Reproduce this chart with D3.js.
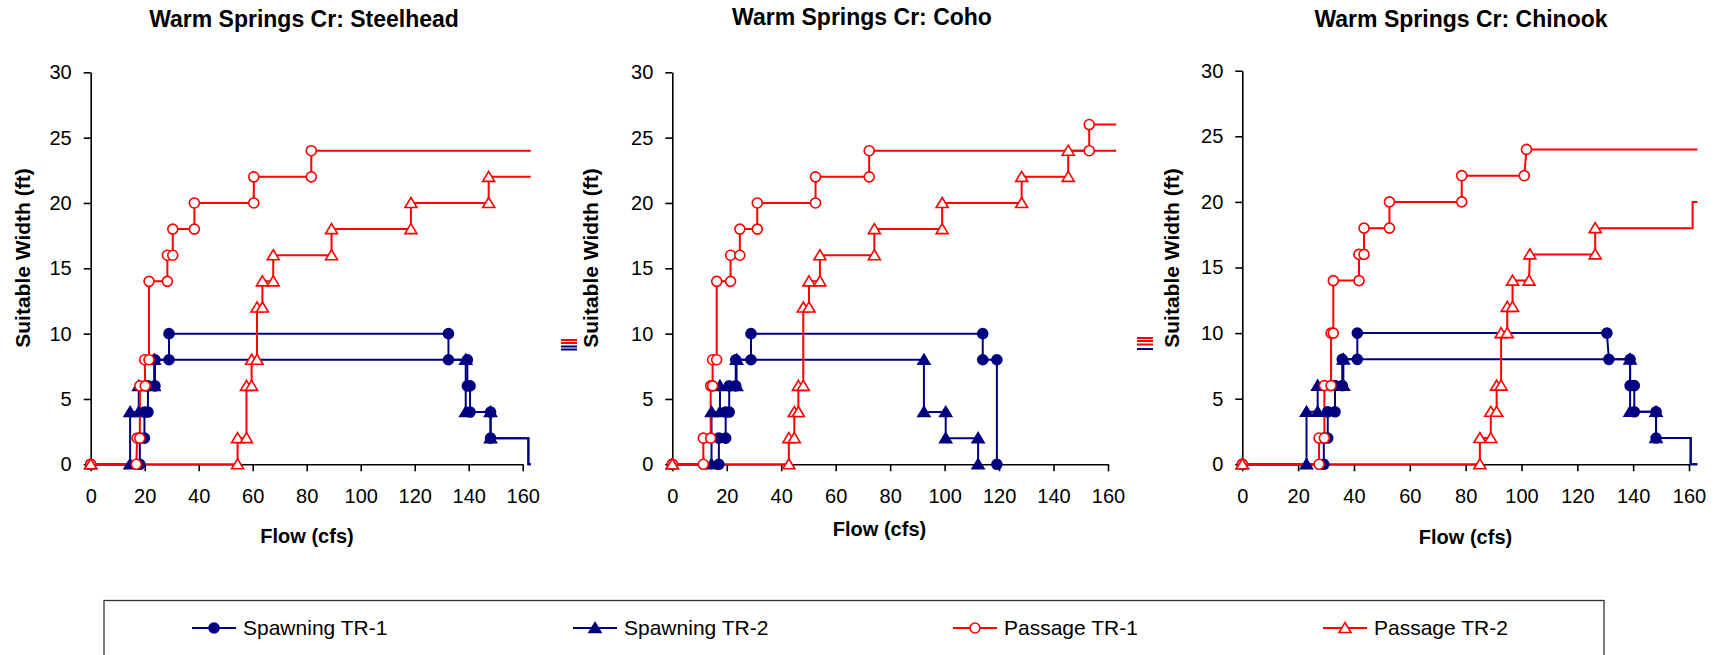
<!DOCTYPE html>
<html>
<head>
<meta charset="utf-8">
<script src="https://cdn.jsdelivr.net/npm/d3@7"></script>
<style>
  body { margin: 0; background: #fff; }
  svg { display: block; font-family: Arial, "Liberation Sans", sans-serif; }
</style>
</head>
<body>
<script>
// tick labels, titles, legend
let flowTicks = [0,20,40,60,80,100,120,140,160];
let widthTicks = [0,5,10,15,20,25,30];
let seriesNames = ["Spawning TR-1","Spawning TR-2","Passage TR-1","Passage TR-2"];
let panelTitles = ["Warm Springs Cr: Steelhead","Warm Springs Cr: Coho","Warm Springs Cr: Chinook"];

// [flow, suitable width] — marked points, then unmarked tail to the plot edge
let steelheadSpawn1 = [[0,0],[18.2,0],[18.2,2],[19.9,2],[19.9,4],[21.2,4],[21.2,6],[23.8,6],[23.8,8],[29,8],[29,10],[132.5,10],[132.5,8],[139.5,8],[139.5,6],[140.5,6],[140.5,4],[148.1,4],[148.1,2]];
let steelheadSpawn2 = [[0,0],[14.6,0],[14.6,4],[17.8,4],[17.8,6],[23.5,6],[23.5,8],[138.9,8],[138.9,4],[148.1,4],[148.1,2]];
let steelheadSpawnTail = [[162.1,2],[162.1,0],[163,0]];
let steelheadPass1 = [[0,0],[16.9,0],[17.2,2],[18.2,2],[18.2,6],[20.2,6],[20,8],[21.6,8],[21.6,14],[28.4,14],[28.4,16],[30.4,16],[30.4,18],[38.4,18],[38.4,20],[60.4,20],[60.4,22],[81.7,22],[81.7,24]];
let steelheadPass1Tail = [[163,24]];
let steelheadPass2 = [[0,0],[54.4,0],[54.4,2],[57.7,2],[57.7,6],[59.6,6],[59.6,8],[61.6,8],[61.6,12],[63.6,12],[63.6,14],[67.6,14],[67.6,16],[89.2,16],[89.2,18],[118.6,18],[118.6,20],[147.4,20],[147.4,22]];
let steelheadPass2Tail = [[163,22]];

let cohoSpawn1 = [[0,0],[17.1,0],[17.1,2],[19.6,2],[19.6,4],[20.9,4],[20.9,6],[23.3,6],[23.3,8],[28.9,8],[28.9,10],[114,10],[114,8],[119.2,8],[119.2,0]];
let cohoSpawn2 = [[0,0],[14.4,0],[14.4,4],[17.5,4],[17.5,6],[23.6,6],[23.6,8],[92.4,8],[92.4,4],[100.4,4],[100.4,2],[112.3,2],[112.3,0]];
let cohoSpawnTail = [];
let cohoPass1 = [[0,0],[11.4,0],[11.4,2],[14.1,2],[14.1,6],[14.8,6],[14.8,8],[16.3,8],[16.3,14],[21.4,14],[21.4,16],[24.8,16],[24.8,18],[31.2,18],[31.2,20],[52.6,20],[52.6,22],[72.3,22],[72.3,24],[153.1,24],[153.1,26]];
let cohoPass1Tail = [[163,26]];
let cohoPass2 = [[0,0],[42.8,0],[42.8,2],[44.8,2],[44.8,4],[46.3,4],[46.3,6],[48.1,6],[48.1,12],[50.2,12],[50.2,14],[54.2,14],[54.2,16],[74.2,16],[74.2,18],[99.1,18],[99.1,20],[128.3,20],[128.3,22],[145.4,22],[145.4,24]];
let cohoPass2Tail = [[163,24]];

let chinookSpawn1 = [[0,0],[29.2,0],[29.2,2],[30.6,2],[30.6,4],[33.2,4],[33.2,6],[35.8,6],[35.8,8],[41.2,8],[41.2,10],[130.6,10],[131.3,8],[138.9,8],[138.9,6],[140.4,6],[140.4,4],[148.2,4],[148.2,2]];
let chinookSpawn2 = [[0,0],[23,0],[23,4],[27,4],[27,6],[36.2,6],[36.2,8],[138.9,8],[138.9,4],[148.2,4],[148.2,2]];
let chinookSpawnTail = [[160.6,2],[160.6,0],[163,0]];
let chinookPass1 = [[0,0],[27.5,0],[27.5,2],[29.4,2],[29.4,6],[31.8,6],[31.8,10],[32.6,10],[32.6,14],[41.8,14],[41.8,16],[43.6,16],[43.6,18],[52.7,18],[52.7,20],[78.6,20],[78.6,22],[101,22],[101.8,24]];
let chinookPass1Tail = [[163,24]];
let chinookPass2 = [[0,0],[85.1,0],[85.1,2],[89,2],[89,4],[91.1,4],[91.1,6],[92.7,6],[92.7,10],[94.9,10],[94.9,12],[96.8,12],[96.8,14],[102.7,14],[103,16],[126.4,16],[126.4,18]];
let chinookPass2Tail = [[161.3,18],[161.3,20],[163,20]];

let panelSeries = [
  [[steelheadSpawn1,steelheadSpawnTail],[steelheadSpawn2,steelheadSpawnTail],[steelheadPass1,steelheadPass1Tail],[steelheadPass2,steelheadPass2Tail]],
  [[cohoSpawn1,cohoSpawnTail],[cohoSpawn2,cohoSpawnTail],[cohoPass1,cohoPass1Tail],[cohoPass2,cohoPass2Tail]],
  [[chinookSpawn1,chinookSpawnTail],[chinookSpawn2,chinookSpawnTail],[chinookPass1,chinookPass1Tail],[chinookPass2,chinookPass2Tail]]
];

// styling / layout
let navy = "#000080", red = "#ff0000";
let seriesStyle = [
  {color: navy, shape: "circle", fill: navy},
  {color: navy, shape: "triangle", fill: navy},
  {color: red, shape: "circle", fill: "#fff"},
  {color: red, shape: "triangle", fill: "#fff"}
];
let layout = [
  {x0: 90.7, x1: 522.7, top: 72.3, bottom: 464.3, titleX: 304, titleY: 27, xLabX: 307, xLabY: 543, yLabX: 23},
  {x0: 672.3, x1: 1108, top: 72.3, bottom: 464.3, titleX: 862, titleY: 25, xLabX: 879.5, xLabY: 536, yLabX: 591},
  {x0: 1242.3, x1: 1689, top: 70.7, bottom: 464.3, titleX: 1461, titleY: 27, xLabX: 1465.5, xLabY: 544, yLabX: 1172}
];

let svg = d3.select("body").append("svg").attr("width",1717).attr("height",655);

let tri = "M0,-5.5L6,4.5L-6,4.5Z";
function drawMarker(g, shape, color, fill, px, py) {
  if (shape === "circle") {
    g.append("circle").attr("cx",px).attr("cy",py).attr("r",5)
      .attr("fill",fill).attr("stroke",color).attr("stroke-width",1.6);
  } else {
    g.append("path").attr("d",tri).attr("transform",`translate(${px},${py})`)
      .attr("fill",fill).attr("stroke",color).attr("stroke-width",1.6).attr("stroke-linejoin","miter");
  }
}

layout.forEach((L,p)=>{
  let x = d3.scaleLinear().domain([0,160]).range([L.x0,L.x1]);
  let y = d3.scaleLinear().domain([0,30]).range([L.bottom,L.top]);
  let g = svg.append("g");

  let yAxis = g.append("g").attr("transform",`translate(${L.x0},0)`)
    .call(d3.axisLeft(y).tickValues(widthTicks).tickSize(7).tickSizeOuter(0).tickPadding(12));
  let xAxis = g.append("g").attr("transform",`translate(0,${L.bottom})`)
    .call(d3.axisBottom(x).tickValues(flowTicks).tickSize(7).tickSizeOuter(0).tickPadding(18));
  [yAxis,xAxis].forEach(a=>{
    a.attr("font-size",20).attr("font-family","Arial, 'Liberation Sans', sans-serif");
    a.selectAll("path,line").attr("stroke","#000").attr("stroke-width",1.6);
    a.selectAll("text").attr("fill","#000");
  });

  let line = d3.line().x(d=>x(d[0])).y(d=>y(d[1]));
  panelSeries[p].forEach((s,i)=>{
    let st = seriesStyle[i];
    g.append("path").attr("d",line(s[0].concat(s[1])))
      .attr("fill","none").attr("stroke",st.color).attr("stroke-width",2);
  });
  panelSeries[p].forEach((s,i)=>{
    let st = seriesStyle[i];
    let mg = g.append("g");
    s[0].forEach(d=>drawMarker(mg, st.shape, st.color, st.fill, x(d[0]), y(d[1])));
  });

  g.append("text").attr("x",L.titleX).attr("y",L.titleY)
    .attr("text-anchor","middle").attr("font-size",23).attr("font-weight","bold")
    .text(panelTitles[p]);
  g.append("text").attr("x",L.xLabX).attr("y",L.xLabY)
    .attr("text-anchor","middle").attr("font-size",20).attr("font-weight","bold")
    .text("Flow (cfs)");
  g.append("text").attr("transform",`translate(${L.yLabX},258) rotate(-90)`)
    .attr("dy","0.35em").attr("text-anchor","middle").attr("font-size",21).attr("font-weight","bold")
    .text("Suitable Width (ft)");
});

// little leftover legend keys beside the 2nd and 3rd panels
let stubs = [
  {x: 561, ys: [340,343,346.5,349.5], colors: [red,red,navy,navy]},
  {x: 1137, ys: [338,341,344.5,349], colors: [red,red,red,navy]}
];
stubs.forEach(s=>{
  svg.selectAll(null).data(s.ys).enter().append("line")
    .attr("x1",s.x).attr("x2",s.x+16)
    .attr("y1",d=>d).attr("y2",d=>d)
    .attr("stroke",(d,i)=>s.colors[i]).attr("stroke-width",2);
});

// legend
svg.append("rect").attr("x",104).attr("y",600.5).attr("width",1500).attr("height",80)
  .attr("fill","none").attr("stroke","#333").attr("stroke-width",1.3);
let keyX = [214, 595, 975, 1345];
seriesNames.forEach((name,i)=>{
  let st = seriesStyle[i];
  let lg = svg.append("g");
  lg.append("line").attr("x1",keyX[i]-22).attr("x2",keyX[i]+22)
    .attr("y1",628).attr("y2",628).attr("stroke",st.color).attr("stroke-width",2);
  drawMarker(lg, st.shape, st.color, st.fill, keyX[i], 628);
  lg.append("text").attr("x",keyX[i]+29).attr("y",628).attr("dy","0.35em")
    .attr("font-size",21).text(name);
});
</script>
</body>
</html>
